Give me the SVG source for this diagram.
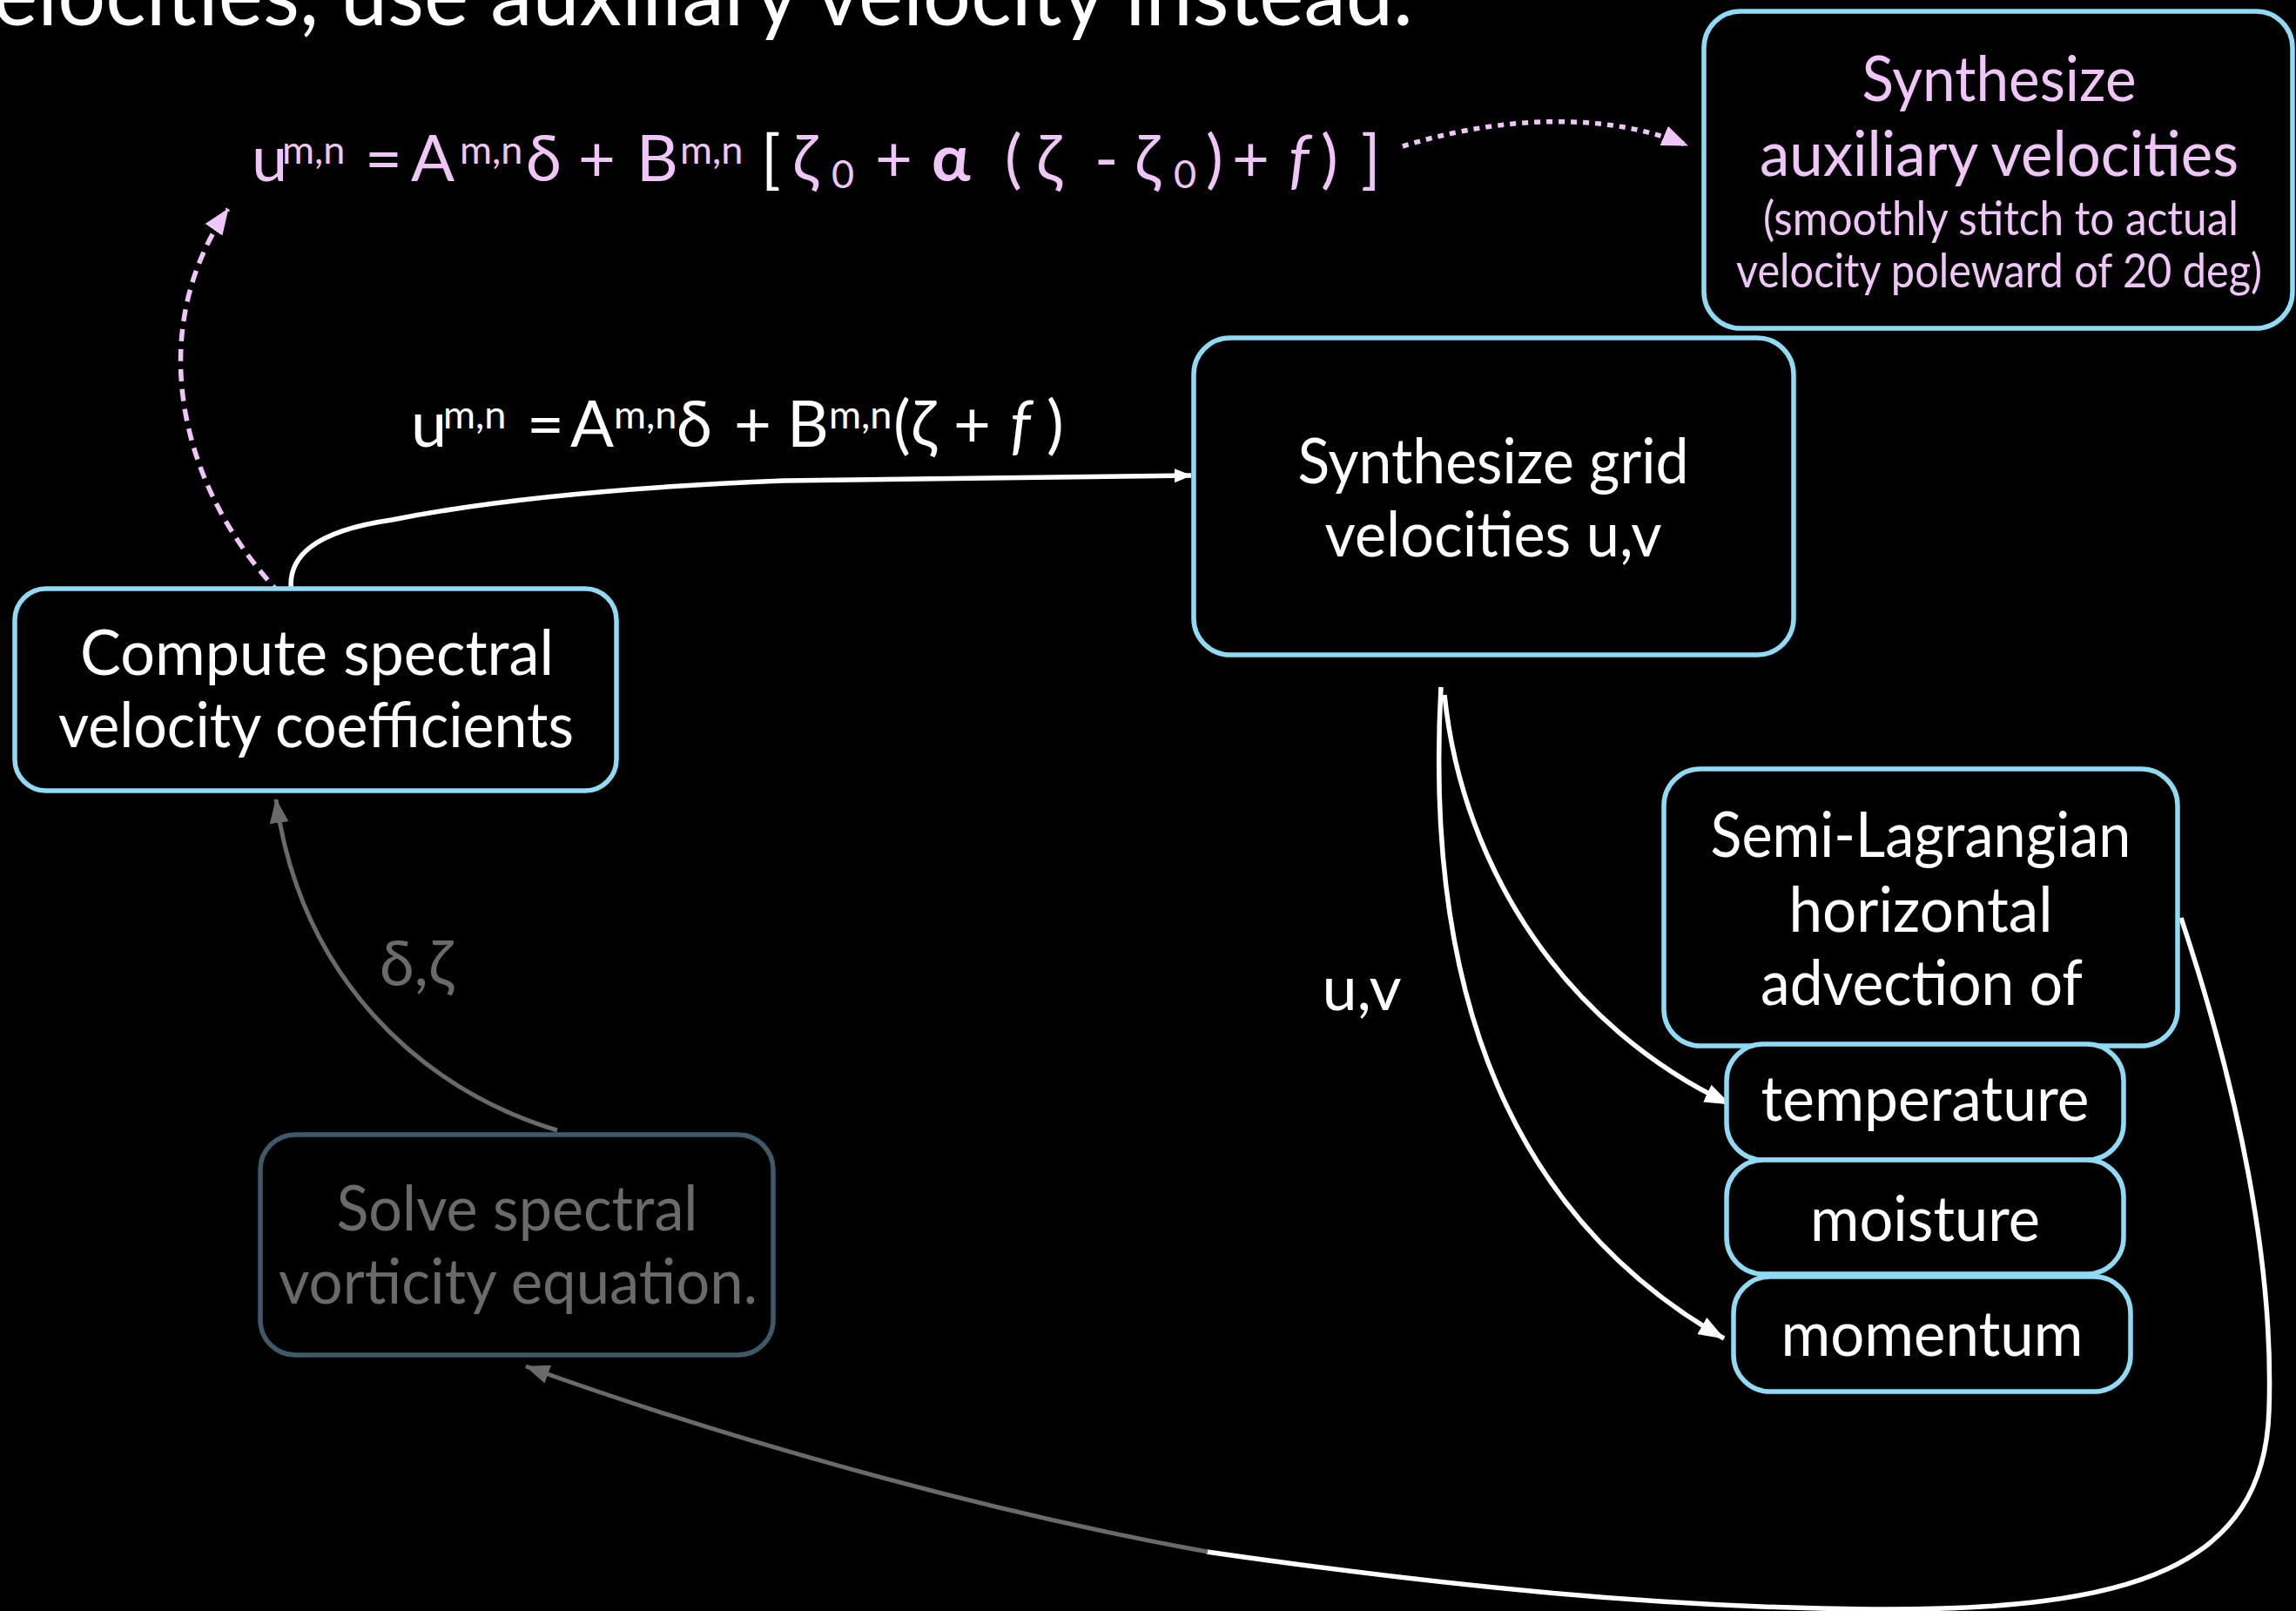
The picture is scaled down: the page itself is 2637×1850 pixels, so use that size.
<svg xmlns="http://www.w3.org/2000/svg" width="2637" height="1850" viewBox="0 0 2637 1850">
<defs>
<style>
.bg{fill:#000}
.box{fill:#000;stroke:#8fdbf5;stroke-width:5.5}
.boxd{fill:#000;stroke:#3e5a68;stroke-width:5.5}
text{font-family:Lato,"Noto Sans","DejaVu Sans",sans-serif}
.t{fill:#fff;font-size:72px;text-anchor:middle}
.tp{fill:#efc6f7;font-size:72px;text-anchor:middle}
.ts{fill:#efc6f7;font-size:54px;text-anchor:middle}
.tg{fill:#6a6a6a;font-size:72px;text-anchor:middle}
.f{font-size:74px}
.sup{font-size:45px}
.cw{fill:none;stroke:#fff;stroke-width:5.5}
.cg{fill:none;stroke:#6a6a6a;stroke-width:5}
.cp{fill:none;stroke:#efc6f7;stroke-width:5.5}
</style>
<marker id="aw" viewBox="0 0 30 22" refX="29" refY="11" markerWidth="30" markerHeight="22" markerUnits="userSpaceOnUse" orient="auto"><path d="M0,0 L30,11 L0,22 z" fill="#fff"/></marker>
<marker id="aws" viewBox="0 0 20 16" refX="19" refY="8" markerWidth="20" markerHeight="16" markerUnits="userSpaceOnUse" orient="auto"><path d="M0,0 L20,8 L0,16 z" fill="#fff"/></marker>
<marker id="ag" viewBox="0 0 28 22" refX="27" refY="11" markerWidth="28" markerHeight="22" markerUnits="userSpaceOnUse" orient="auto"><path d="M0,0 L28,11 L0,22 z" fill="#6a6a6a"/></marker>
<marker id="ap" viewBox="0 0 30 24" refX="29" refY="12" markerWidth="30" markerHeight="24" markerUnits="userSpaceOnUse" orient="auto"><path d="M0,0 L30,12 L0,24 z" fill="#efc6f7"/></marker>
</defs>
<rect class="bg" x="0" y="0" width="2637" height="1850"/>

<text id="title" x="-8" y="29" font-size="100" fill="#fff" textLength="1631" lengthAdjust="spacingAndGlyphs">elocities, use auxiliary velocity instead.</text>

<g id="formula-aux" fill="#efc6f7" class="f">
<text y="208"><tspan x="289">u</tspan><tspan class="sup" x="324" y="188">m,n</tspan><tspan x="419" y="208">=</tspan><tspan x="472">A</tspan><tspan class="sup" x="528" y="188">m,n</tspan><tspan x="604" y="208">δ</tspan><tspan x="664">+</tspan><tspan x="731">B</tspan><tspan class="sup" x="781" y="188">m,n</tspan><tspan x="874" y="208" fill="#fff">[</tspan><tspan x="910">ζ</tspan><tspan class="sup" x="955" y="216">0</tspan><tspan x="1005" y="208">+</tspan><tspan x="1070" font-weight="bold">α</tspan><tspan x="1154">(</tspan><tspan x="1190">ζ</tspan><tspan x="1257">-</tspan><tspan x="1303">ζ</tspan><tspan class="sup" x="1348" y="216">0</tspan><tspan x="1385" y="208">)</tspan><tspan x="1415">+</tspan><tspan x="1480" font-style="italic">f</tspan><tspan x="1517">)</tspan><tspan x="1563">]</tspan></text>
</g>

<g id="formula-grid" fill="#fff" class="f">
<text y="513"><tspan x="472">u</tspan><tspan class="sup" x="509" y="492">m,n</tspan><tspan x="605" y="513">=</tspan><tspan x="655">A</tspan><tspan class="sup" x="705" y="492">m,n</tspan><tspan x="777" y="513">δ</tspan><tspan x="843">+</tspan><tspan x="904">B</tspan><tspan class="sup" x="952" y="492">m,n</tspan><tspan x="1026" y="513">(</tspan><tspan x="1046">ζ</tspan><tspan x="1095">+</tspan><tspan x="1160" font-style="italic">f</tspan><tspan x="1202">)</tspan></text>
</g>

<g id="connectors">
<path class="cp" d="M1611 168 C1700 140 1830 122 1938 167" stroke-dasharray="7 7" marker-end="url(#ap)"/>
<path class="cp" d="M323 683 C205 560 165 380 262 240" stroke-dasharray="14 9" marker-end="url(#ap)"/>
<path class="cw" d="M335 682 C328 640 360 610 450 597 C560 575 700 560 900 552 L1368 546" marker-end="url(#aws)"/>
<path class="cg" d="M640 1298 C480 1250 345 1120 317 918" marker-end="url(#ag)"/>
<path class="cw" d="M1659 798 C1680 1000 1800 1180 1987 1268" marker-end="url(#aw)"/>
<path class="cw" d="M1655 789 C1635 1150 1740 1400 1980 1537" marker-end="url(#aw)"/>
<path class="cw" d="M2505 1054 C2570 1250 2612 1450 2606 1620 C2600 1800 2450 1850 2150 1848 C1900 1846 1650 1820 1386 1782"/>
<path class="cg" d="M1387 1782 C1100 1730 800 1640 604 1569" marker-end="url(#ag)"/>
</g>

<g id="lbl-dz"><text class="tg" x="478" y="1132">δ,ζ</text></g>
<g id="lbl-uv"><text class="t" x="1564" y="1160">u,v</text></g>

<g id="node-aux">
<rect class="box" x="1957" y="13" width="676" height="364" rx="42"/>
<text class="tp" x="2296" y="116" textLength="315" lengthAdjust="spacingAndGlyphs">Synthesize</text>
<text class="tp" x="2296" y="202" textLength="550" lengthAdjust="spacingAndGlyphs">auxiliary velocities</text>
<text class="ts" x="2298" y="270" textLength="546" lengthAdjust="spacingAndGlyphs">(smoothly stitch to actual</text>
<text class="ts" x="2296" y="330" textLength="604" lengthAdjust="spacingAndGlyphs">velocity poleward of 20 deg)</text>
</g>

<g id="node-compute">
<rect class="box" x="17" y="676" width="691" height="232" rx="36"/>
<text class="t" x="364" y="775" textLength="544" lengthAdjust="spacingAndGlyphs">Compute spectral</text>
<text class="t" x="363" y="858" textLength="592" lengthAdjust="spacingAndGlyphs">velocity coefficients</text>
</g>

<g id="node-grid">
<rect class="box" x="1371" y="388" width="689" height="364" rx="42"/>
<text class="t" x="1715" y="555" textLength="449" lengthAdjust="spacingAndGlyphs">Synthesize grid</text>
<text class="t" x="1715" y="639" textLength="387" lengthAdjust="spacingAndGlyphs">velocities u,v</text>
</g>

<g id="node-semilag">
<rect class="box" x="1911" y="883" width="590" height="318" rx="42"/>
<text class="t" x="2206" y="984" textLength="483" lengthAdjust="spacingAndGlyphs">Semi-Lagrangian</text>
<text class="t" x="2206" y="1070" textLength="303" lengthAdjust="spacingAndGlyphs">horizontal</text>
<text class="t" x="2207" y="1154" textLength="370" lengthAdjust="spacingAndGlyphs">advection of</text>
</g>

<g id="node-temperature">
<rect class="box" x="1983" y="1199" width="456" height="133" rx="42"/>
<text class="t" x="2211" y="1287" textLength="377" lengthAdjust="spacingAndGlyphs">temperature</text>
</g>

<g id="node-moisture">
<rect class="box" x="1983" y="1332" width="456" height="131" rx="42"/>
<text class="t" x="2211" y="1425" textLength="264" lengthAdjust="spacingAndGlyphs">moisture</text>
</g>

<g id="node-momentum">
<rect class="box" x="1991" y="1466" width="456" height="132" rx="42"/>
<text class="t" x="2219" y="1557" textLength="347" lengthAdjust="spacingAndGlyphs">momentum</text>
</g>

<g id="node-solve">
<rect class="boxd" x="299" y="1303" width="589" height="253" rx="40"/>
<text class="tg" x="594" y="1413" textLength="415" lengthAdjust="spacingAndGlyphs">Solve spectral</text>
<text class="tg" x="595" y="1497" textLength="550" lengthAdjust="spacingAndGlyphs">vorticity equation.</text>
</g>
</svg>
